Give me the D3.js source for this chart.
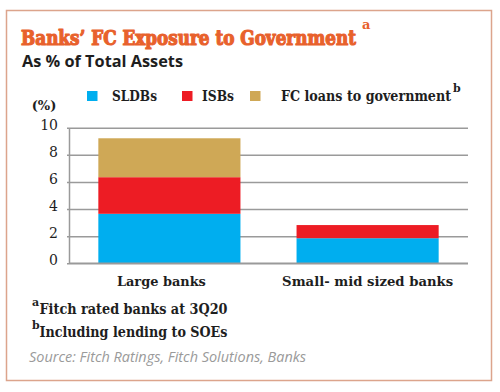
<!DOCTYPE html>
<html><head><meta charset="utf-8">
<script src="https://cdn.jsdelivr.net/npm/d3@7"></script>
<style>
html,body{margin:0;padding:0;background:#fff;}
svg{display:block;}
</style>
</head><body>
<svg id="chart" width="500" height="392"></svg>
<script>
const categories = ["Large banks", "Small- mid sized banks"];
const seriesNames = ["SLDBs", "ISBs", "FC loans to government"];
const sldbs = [3.65, 1.85];
const isbs = [2.7, 0.97];
const fcLoans = [2.87, 0];
const yTicks = [0, 2, 4, 6, 8, 10];
const colors = ["#00AEEF", "#ED1C24", "#CFA856"];

const svg = d3.select("#chart");
const slab = "'DejaVu Serif', serif";
const ink = "#1e1e1e";

function fit(sel, w) {
  const n = sel.node();
  if (n.getComputedTextLength() > 0) sel.attr("textLength", w).attr("lengthAdjust", "spacingAndGlyphs");
  return sel;
}

svg.append("rect").attr("x", 6.5).attr("y", 10.5).attr("width", 485).attr("height", 370)
  .attr("fill", "#fff").attr("stroke", "#DCA48C").attr("stroke-width", 1.5);

// Title
fit(svg.append("text").attr("x", 21).attr("y", 45)
  .attr("font-family", "'DejaVu Serif Condensed', 'DejaVu Serif', serif").attr("font-weight", "bold").attr("font-size", 19.5)
  .attr("fill", "#E8612C").attr("stroke", "#E8612C").attr("stroke-width", 1.1).attr("stroke-linejoin", "round")
  .text("Banks\u2019 FC Exposure to Government"), 335);
svg.append("text").attr("x", 362).attr("y", 29).attr("font-family", slab)
  .attr("font-weight", "bold").attr("font-size", 13).attr("fill", "#E8612C").text("a");

fit(svg.append("text").attr("x", 22).attr("y", 67)
  .attr("font-family", "'Open Sans', sans-serif").attr("font-weight", "bold")
  .attr("font-size", 16).attr("fill", ink).text("As % of Total Assets"), 161);

const margin = {left: 69, right: 468, top: 127.7, bottom: 263.3};
const x = d3.scaleBand().domain(categories).range([margin.left, margin.right])
  .paddingInner(0.283).paddingOuter(0.148);
const y = d3.scaleLinear().domain([0, 10]).range([margin.bottom, margin.top]);

const yAxis = d3.axisLeft(y).tickValues(yTicks).tickSizeInner(-(margin.right - margin.left)).tickSizeOuter(0).tickPadding(11);
const gy = svg.append("g").attr("transform", `translate(${margin.left},0)`).call(yAxis);
gy.select(".domain").attr("stroke", "#9a9a9a").attr("stroke-width", 1.5);
gy.selectAll(".tick line").attr("stroke", "#9a9a9a").attr("stroke-width", 1.5).attr("x1", -2);
gy.selectAll(".tick text").attr("font-family", slab).attr("font-size", 14)
  .attr("fill", ink).attr("dy", "0.1em");

svg.append("text").attr("x", 44).attr("y", 110).attr("text-anchor", "middle")
  .attr("font-family", slab).attr("font-size", 13).attr("font-weight", "bold").attr("fill", ink).text("(%)");

const rows = categories.map((c, i) => ({cat: c, s0: sldbs[i], s1: isbs[i], s2: fcLoans[i]}));
const stack = d3.stack().keys(["s0", "s1", "s2"]);
const series = stack(rows);
svg.append("g").selectAll("g").data(series).join("g")
  .attr("fill", (d, i) => colors[i])
  .selectAll("rect").data(d => d).join("rect")
  .attr("x", d => x(d.data.cat)).attr("width", x.bandwidth())
  .attr("y", d => y(d[1])).attr("height", d => y(d[0]) - y(d[1]));

svg.append("line").attr("x1", margin.left).attr("x2", margin.right)
  .attr("y1", y(0)).attr("y2", y(0)).attr("stroke", "#9a9a9a").attr("stroke-width", 1.5);

const labelShift = [-8, 0];
const labelW = [89, 171];
const xAxis = d3.axisBottom(x).tickSize(0).tickPadding(13);
const gx = svg.append("g").attr("transform", `translate(0,${y(0)})`).call(xAxis);
gx.select(".domain").remove();
gx.selectAll(".tick text").attr("font-family", slab).attr("font-size", 13.5)
  .attr("font-weight", "bold").attr("fill", ink)
  .attr("dx", (d, i) => labelShift[i])
  .each(function(d, i) { fit(d3.select(this), labelW[i]); });

const legendX = [87, 182, 250];
const legendTextX = [112, 202, 281];
const legendW = [45, 32, 170];
const lg = svg.append("g");
seriesNames.forEach((n, i) => {
  lg.append("rect").attr("x", legendX[i]).attr("y", 91).attr("width", 10.5).attr("height", 10).attr("fill", colors[i]);
  fit(lg.append("text").attr("x", legendTextX[i]).attr("y", 101).attr("font-family", slab)
    .attr("font-size", 14).attr("font-weight", "bold").attr("fill", ink).text(n), legendW[i]);
});
svg.append("text").attr("x", 453).attr("y", 92).attr("font-family", slab)
  .attr("font-size", 11).attr("font-weight", "bold").attr("fill", ink).text("b");

const notes = [["a", "Fitch rated banks at 3Q20", 313.5], ["b", "Including lending to SOEs", 337]];
notes.forEach(([s, t, yy]) => {
  svg.append("text").attr("x", 32).attr("y", yy - 8).attr("font-family", slab)
    .attr("font-size", 11).attr("font-weight", "bold").attr("fill", ink).text(s);
  fit(svg.append("text").attr("x", 39.5).attr("y", yy).attr("font-family", slab)
    .attr("font-size", 14).attr("font-weight", "bold").attr("fill", ink).text(t), 188);
});
fit(svg.append("text").attr("x", 29).attr("y", 362)
  .attr("font-family", "'Open Sans', sans-serif").attr("font-style", "italic")
  .attr("font-size", 14.5).attr("fill", "#9a9a9a").text("Source: Fitch Ratings, Fitch Solutions, Banks"), 277);
</script>
</body></html>
